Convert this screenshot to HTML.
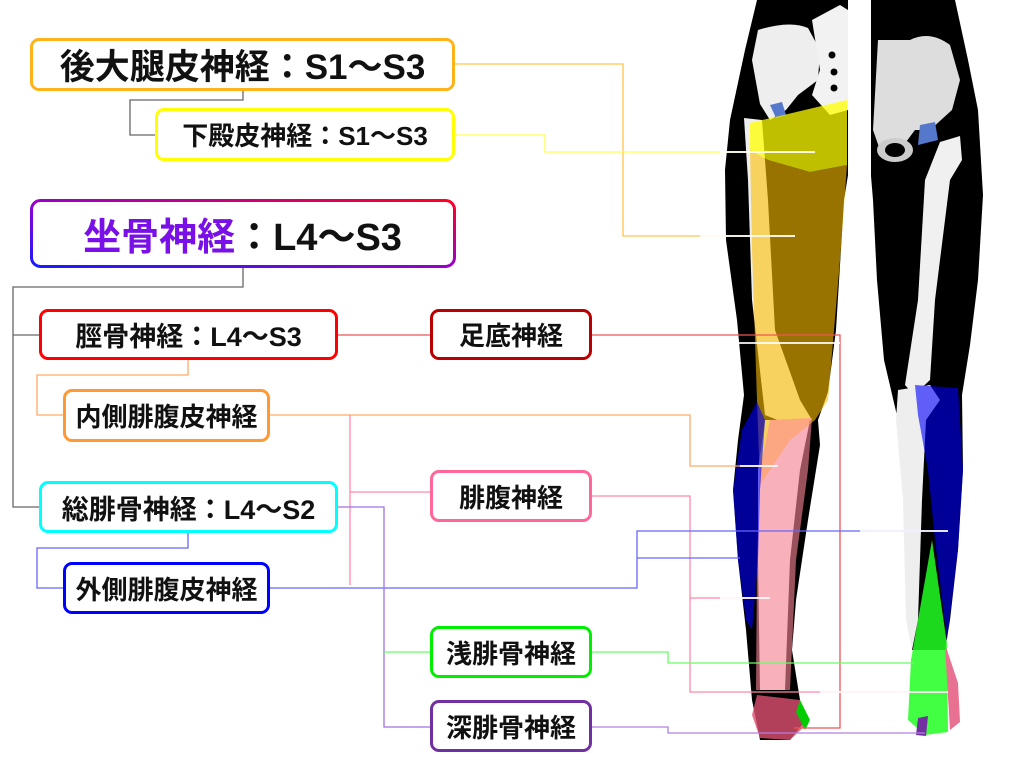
<!DOCTYPE html>
<html><head><meta charset="utf-8"><style>
html,body{margin:0;padding:0;background:#fff;}
#w{position:relative;width:1024px;height:765px;overflow:hidden;font-family:"Liberation Sans","Noto Sans CJK JP",sans-serif;}
.b{position:absolute;box-sizing:border-box;border:3px solid;border-radius:9px;background:#fff;display:flex;align-items:center;justify-content:center;font-weight:bold;color:#111;white-space:nowrap;}
svg{position:absolute;left:0;top:0;}
</style></head><body><div id="w">
<svg width="1024" height="765" viewBox="0 0 1024 765">
<path d="M757,0 L848,0 L848,175 L844,200 L836,330 L828,392 L818,420 L820,445 L808,520 L796,600 L792,650 L800,700 L806,720 L790,740 L760,740 L752,700 L746,630 L738,560 L733,490 L738,440 L744,395 L737,320 L726,240 L725,170 L730,120 L745,50 Z" fill="#000"/>
<path d="M871,0 L955,0 L968,60 L978,110 L983,195 L978,280 L970,345 L962,395 L963,470 L958,550 L950,620 L945,650 L912,650 L910,560 L905,480 L898,420 L884,360 L877,280 L873,200 L871,176 Z" fill="#000"/>
<path d="M758,30 Q790,20 808,28 L820,50 L818,80 L798,95 L786,110 L770,120 L760,104 L752,60 Z" fill="#eee"/>
<path d="M812,20 L840,5 L848,10 L848,110 L830,115 L812,95 L820,70 Z" fill="#f2f2f2"/>
<circle cx="832" cy="55" r="3.5" fill="#000"/><circle cx="834" cy="72" r="3.5" fill="#000"/><circle cx="834" cy="88" r="3.5" fill="#000"/>
<path d="M770,105 L782,102 L786,115 L776,118 Z" fill="#5577cc"/>
<path d="M878,40 L910,40 Q930,30 950,45 L960,80 L952,110 L930,130 L915,130 L900,150 L880,150 L873,130 Z" fill="#ddd"/>
<ellipse cx="895" cy="150" rx="18" ry="12" fill="#ccc"/>
<ellipse cx="895" cy="150" rx="10" ry="7" fill="#000"/>
<path d="M920,125 L935,122 L938,140 L918,145 Z" fill="#5577cc"/>
<path d="M940,142 L960,136 L962,160 L950,180 L935,300 L930,380 L914,395 L905,385 L918,300 L925,180 Z" fill="#f0f0f0"/>
<path d="M898,390 L930,385 L940,400 L926,420 L922,500 L918,620 L912,650 L906,620 L903,500 L896,420 Z" fill="#eee"/>
<path d="M744,118 L762,120 L768,200 L775,330 L800,400 L812,420 L790,425 L765,415 L752,300 L748,180 Z" fill="#eee"/>
<path d="M765,420 L810,420 L800,470 L790,560 L785,690 L760,690 L758,560 L758,470 Z" fill="#eee"/>
<path d="M750,123 L847,100 L847,165 L810,172 L768,160 L750,150 Z" fill="#ffff00" opacity="0.75"/>
<path d="M750,150 L768,160 L810,172 L847,165 L840,260 L828,400 L815,420 L790,440 L770,470 L760,485 L757,400 L752,250 Z" fill="#ffbf00" opacity="0.6"/>
<path d="M770,420 L812,418 L808,470 L796,560 L790,690 L756,690 L757,560 L760,470 Z" fill="#ff8899" opacity="0.6"/>
<path d="M757,402 L765,420 L760,490 L758,560 L752,630 L746,620 L738,560 L733,490 L742,430 Z" fill="#0000ff" opacity="0.6"/>
<path d="M757,695 L800,700 L806,725 L790,740 L760,738 L752,715 Z" fill="#e05070" opacity="0.8"/>
<path d="M800,700 L810,720 L805,730 L796,712 Z" fill="#00cc00"/>
<path d="M915,385 L958,388 L963,470 L958,550 L947,640 L935,540 L928,470 L918,415 Z" fill="#0000ff" opacity="0.6"/>
<path d="M932,540 L947,644 L948,732 L925,735 L908,720 L911,660 Z" fill="#22ff22" opacity="0.85"/>
<path d="M945,644 L958,683 L960,722 L950,730 L947,680 Z" fill="#e87090"/>
<path d="M918,718 L928,716 L926,736 L916,735 Z" fill="#7030a0"/>
<g fill="none" stroke-width="1.3">
<path d="M243,91 V100 H130 V135 H155" stroke="#666"/>
<path d="M243,267 V287 H13 V507 H39 M13,335 H39" stroke="#666"/>
<path d="M455,64 H623 V236 H795" stroke="#ffc34d"/>
<path d="M455,135 H545 V152 H815" stroke="#ffff55"/>
<path d="M338,335 H430 M592,335 H840 V728 H794" stroke="#ee5555"/>
<path d="M188,360 V375 H37 V415 H63 M270,415 H690 V466 H778" stroke="#ffaa66"/>
<path d="M350,415 V585 M350,492 H430 M592,496 H690 V692 H948 M690,598 H770" stroke="#ff88aa"/>
<path d="M188,533 V548 H37 V588 H63 M270,588 H637 V531 H948 M637,558 H740" stroke="#6666ff"/>
<path d="M338,507 H384 V727 H430" stroke="#a070e0"/>
<path d="M384,652 H430 M592,652 H668 V663 H915" stroke="#66ff66"/>
<path d="M592,727 H668 V733 H925" stroke="#b080e0"/>
</g>
<g stroke="#fff" stroke-width="2" opacity="0.85">
<path d="M720,152 H815 M700,236 H795 M740,466 H778 M720,598 H770 M860,531 H948 M820,692 H948 M705,343 H840"/>
</g>
<defs><linearGradient id="g" x1="0" y1="1" x2="1" y2="0"><stop offset="0" stop-color="#1a1aff"/><stop offset="0.5" stop-color="#9900cc"/><stop offset="1" stop-color="#ff0022"/></linearGradient></defs>
<rect x="31.5" y="200.5" width="423" height="66" rx="9" fill="#fff" stroke="url(#g)" stroke-width="3"/>
</svg>
<div class="b" style="left:30px;top:38px;width:425px;height:53px;border-color:#ffb31a;font-size:35px;">後大腿皮神経：S1〜S3</div>
<div class="b" style="left:155px;top:108px;width:300px;height:53px;border-color:#ffff00;font-size:26px;">下殿皮神経：S1〜S3</div>
<div style="position:absolute;left:30px;top:199px;width:425px;height:68px;display:flex;align-items:center;justify-content:center;font-weight:bold;font-size:38px;color:#111;white-space:nowrap;"><span style="color:#7a10e8">坐骨神経</span>：L4〜S3</div>
<div class="b" style="left:39px;top:309px;width:299px;height:51px;border-color:#ff0000;font-size:27px;">脛骨神経：L4〜S3</div>
<div class="b" style="left:430px;top:309px;width:162px;height:51px;border-color:#b80000;font-size:26px;">足底神経</div>
<div class="b" style="left:63px;top:389px;width:207px;height:53px;border-color:#ff9933;font-size:26px;">内側腓腹皮神経</div>
<div class="b" style="left:39px;top:481px;width:299px;height:52px;border-color:#00ffff;font-size:27px;">総腓骨神経：L4〜S2</div>
<div class="b" style="left:430px;top:470px;width:162px;height:52px;border-color:#ff6699;font-size:26px;">腓腹神経</div>
<div class="b" style="left:63px;top:562px;width:207px;height:52px;border-color:#0000ff;font-size:26px;">外側腓腹皮神経</div>
<div class="b" style="left:430px;top:626px;width:162px;height:52px;border-color:#00ee00;font-size:26px;">浅腓骨神経</div>
<div class="b" style="left:430px;top:700px;width:162px;height:52px;border-color:#7030a0;font-size:26px;">深腓骨神経</div>
</div></body></html>
